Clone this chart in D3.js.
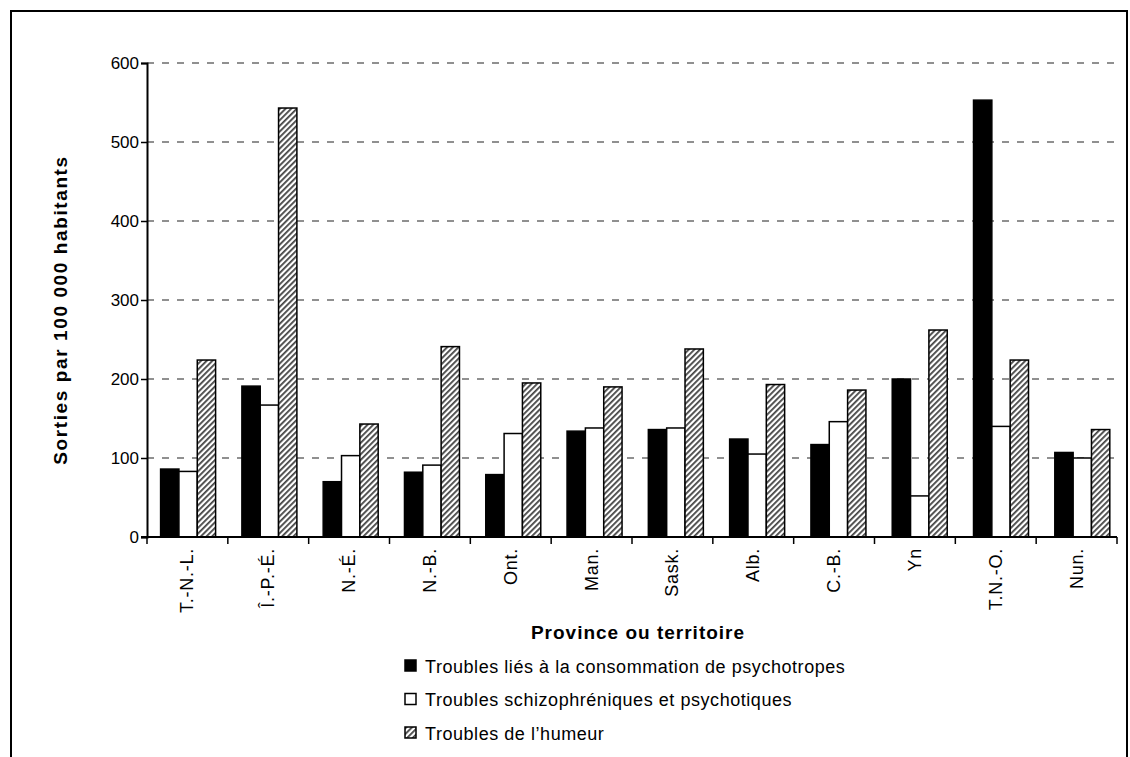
<!DOCTYPE html>
<html lang="fr">
<head>
<meta charset="utf-8">
<script src="https://cdn.jsdelivr.net/npm/d3@7"></script>
<style>
  html, body { margin: 0; padding: 0; background: #fff; }
  svg { display: block; font-family: "Liberation Sans", Arial, sans-serif; }
</style>
</head>
<body>
<svg id="chart" width="1130" height="757"></svg>
<script>
// Provinces et territoires
const categories = ["T.-N.-L.", "Î.-P.-É.", "N.-É.", "N.-B.", "Ont.", "Man.", "Sask.", "Alb.", "C.-B.", "Yn", "T.N.-O.", "Nun."];

// Sorties par 100 000 habitants, par type de trouble
const psychotropes = [86, 191, 70, 82, 79, 134, 136, 124, 117, 200, 553, 107];
const schizo       = [83, 167, 103, 91, 131, 138, 138, 105, 146, 52, 140, 100];
const humeur       = [224, 543, 143, 241, 195, 190, 238, 193, 186, 262, 224, 136];

const seriesNames = [
  "Troubles liés à la consommation de psychotropes",
  "Troubles schizophréniques et psychotiques",
  "Troubles de l\u2019humeur"
];
const yTicks = [0, 100, 200, 300, 400, 500, 600];

const seriesValues = [psychotropes, schizo, humeur];
const fills = ["#000", "#fff", "url(#hatch)"];

const svg = d3.select("#chart");

// Diagonal hatching for the mood-disorder series
const defs = svg.append("defs");
const pat = defs.append("pattern")
  .attr("id", "hatch")
  .attr("patternUnits", "userSpaceOnUse")
  .attr("width", 4).attr("height", 4)
  .attr("patternTransform", "rotate(45)");
pat.append("rect").attr("width", 4).attr("height", 4).attr("fill", "#fff");
pat.append("rect").attr("x", 0).attr("width", 1.8).attr("height", 4).attr("fill", "#444");

// Outer frame
svg.append("rect")
  .attr("x", 11).attr("y", 11).attr("width", 1116).attr("height", 770)
  .attr("fill", "none").attr("stroke", "#000").attr("stroke-width", 2);

const plotLeft = 147, plotRight = 1117, plotTop = 63, plotBottom = 537;

const y = d3.scaleLinear().domain([0, 600]).range([plotBottom, plotTop]);
const x = d3.scaleBand().domain(categories).range([plotLeft, plotRight]).padding(0);
const xBar = d3.scaleBand().domain(categories).range([147.6, 1123.1]).padding(0);
const xInner = d3.scaleBand().domain(d3.range(3)).range([13, 68]);

// Dashed horizontal gridlines
svg.append("g")
  .selectAll("line")
  .data(yTicks.filter(d => d > 0))
  .join("line")
  .attr("x1", plotLeft).attr("x2", plotRight)
  .attr("y1", d => y(d)).attr("y2", d => y(d))
  .attr("stroke", "#222").attr("stroke-width", 1.2)
  .attr("stroke-dasharray", "7,8");

// Bars
const groups = svg.append("g")
  .selectAll("g")
  .data(categories)
  .join("g")
  .attr("transform", d => `translate(${xBar(d)},0)`);

groups.selectAll("rect")
  .data((c, i) => seriesValues.map((vals, s) => ({ s, v: vals[i] })))
  .join("rect")
  .attr("x", d => xInner(d.s))
  .attr("width", xInner.bandwidth())
  .attr("y", d => y(d.v))
  .attr("height", d => y(0) - y(d.v))
  .attr("fill", d => fills[d.s])
  .attr("stroke", "#000")
  .attr("stroke-width", 1.5);

// Y axis
const yAxis = svg.append("g")
  .attr("transform", `translate(${plotLeft},0)`)
  .call(d3.axisLeft(y).tickValues(yTicks).tickSize(6).tickPadding(2));
yAxis.select(".domain").attr("stroke-width", 2);
yAxis.selectAll(".tick line").attr("stroke-width", 1.5);
yAxis.selectAll("text").attr("font-size", 17).attr("fill", "#000")
  .attr("font-family", "'Liberation Sans', Arial, sans-serif");

// X axis with ticks at category boundaries
const xAxis = svg.append("g")
  .attr("transform", `translate(0,${plotBottom})`);
xAxis.append("line")
  .attr("x1", plotLeft - 6).attr("x2", plotRight)
  .attr("stroke", "#000").attr("stroke-width", 2);
xAxis.selectAll(".bound")
  .data(d3.range(categories.length + 1))
  .join("line")
  .attr("class", "bound")
  .attr("x1", i => plotLeft + i * x.step()).attr("x2", i => plotLeft + i * x.step())
  .attr("y1", 0).attr("y2", 7)
  .attr("stroke", "#000").attr("stroke-width", 1.5);
xAxis.selectAll(".lab")
  .data(categories)
  .join("text")
  .attr("class", "lab")
  .attr("transform", d => `translate(${x(d) + x.bandwidth() / 2 + 6},11) rotate(-90)`)
  .attr("text-anchor", "end")
  .attr("font-size", 18)
  .attr("letter-spacing", 0.75)
  .text(d => d);

// Axis titles
svg.append("text")
  .attr("transform", "translate(67,310) rotate(-90)")
  .attr("text-anchor", "middle")
  .attr("font-size", 19).attr("font-weight", "bold")
  .attr("letter-spacing", 1.6)
  .text("Sorties par 100 000 habitants");

svg.append("text")
  .attr("x", 638).attr("y", 639)
  .attr("text-anchor", "middle")
  .attr("font-size", 19).attr("font-weight", "bold")
  .attr("letter-spacing", 1.0)
  .text("Province ou territoire");

// Legend
const legend = svg.append("g").attr("transform", "translate(405,666)");
const rows = legend.selectAll("g")
  .data(seriesNames)
  .join("g")
  .attr("transform", (d, i) => `translate(0,${i * 33.5})`);
rows.append("rect")
  .attr("x", 0).attr("y", -6).attr("width", 11).attr("height", 11)
  .attr("fill", (d, i) => fills[i])
  .attr("stroke", "#000").attr("stroke-width", 1.5);
rows.append("text")
  .attr("x", 20).attr("y", 6.5)
  .attr("font-size", 18)
  .attr("letter-spacing", 0.55)
  .text(d => d);
</script>
</body>
</html>
